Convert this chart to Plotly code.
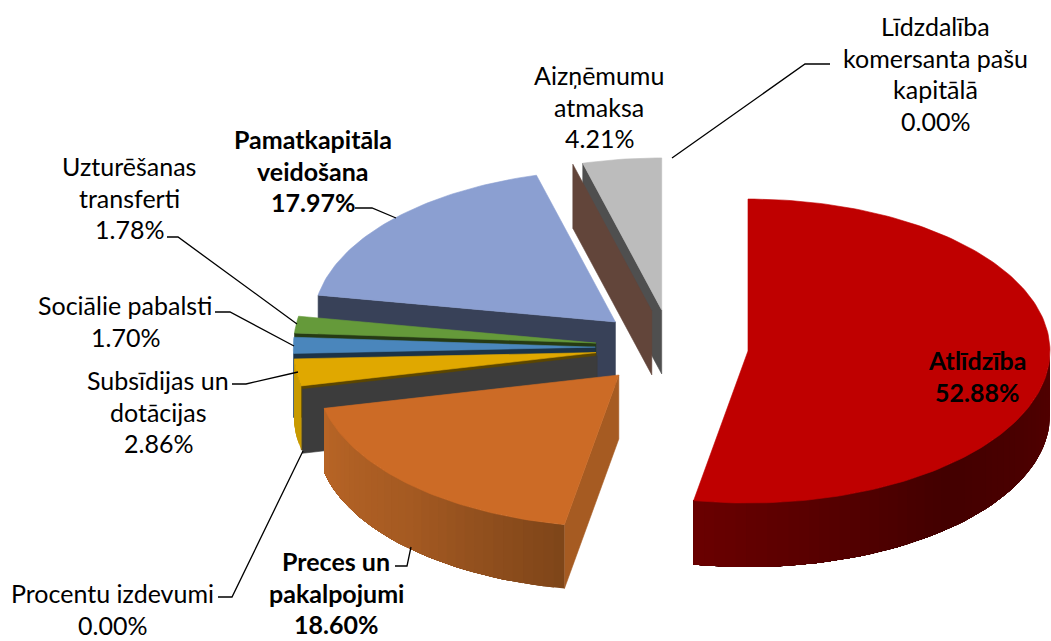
import math
import plotly.graph_objects as go

# ---- data, in chart order (clockwise from 12 o'clock) ----
names = ["Atlīdzība", "Preces un pakalpojumi", "Procentu izdevumi", "Subsīdijas un dotācijas",
         "Sociālie pabalsti", "Uzturēšanas transferti", "Pamatkapitāla veidošana",
         "Līdzdalība komersanta pašu kapitālā", "Aizņēmumu atmaksa"]
values = [52.88, 18.60, 0.00, 2.86, 1.70, 1.78, 17.97, 0.00, 4.21]
top_colors = ["#bf0000", "#cc6b26", "#3c3c3c", "#e0a800", "#4a86bc", "#659a3a", "#8b9fd1", "#62453a", "#bcbcbc"]
face_colors = ["#500000", "#a65b22", "#3c3c3c", "#5c4600", "#1c3347", "#263a14", "#384158", "#62453a", "#4f4f4f"]
wall_stops = [
    ["#520000", "#430000", "#6a0000"],
    ["#7e4519", "#a55a22", "#b86526"],
    ["#3c3c3c", "#3c3c3c"],
    ["#c89a00", "#c89a00"],
    ["#3f72a0", "#3f72a0"],
    ["#4f7a2e", "#4f7a2e"],
    ["#6e7fa8", "#6e7fa8"],
    ["#62453a", "#62453a"],
    ["#969696", "#969696"],
]

label_lines = [
    ["Atlīdzība", "52.88%"],
    ["Preces un", "pakalpojumi", "18.60%"],
    ["Procentu izdevumi", "0.00%"],
    ["Subsīdijas un", "dotācijas", "2.86%"],
    ["Sociālie pabalsti", "1.70%"],
    ["Uzturēšanas", "transferti", "1.78%"],
    ["Pamatkapitāla", "veidošana", "17.97%"],
    ["Līdzdalība", "komersanta pašu", "kapitālā", "0.00%"],
    ["Aizņēmumu", "atmaksa", "4.21%"],
]
label_bold = [True, True, False, False, False, False, True, False, False]
label_x = [977, 336, 112, 158, 125, 129, 313, 935, 599]
label_y = [360, 561, 593, 380, 305, 166, 139, 26, 75]
LINE_STEP = 31.7

leaders = [
    [(395, 566), (407, 566), (411, 547)],
    [(218, 597), (232, 597), (303, 451)],
    [(232, 384), (246, 384), (298, 372)],
    [(215, 312), (230, 312), (294, 346)],
    [(167, 237), (178, 237), (297, 324)],
    [(355, 208), (372, 208), (396, 218)],
    [(830, 64), (805, 64), (672, 158)],
]

# ---- projection of the tilted pie ----
CX, CY = 671.8, 347.6   # pie centre on the page
RX, RY = 302.0, 152.0   # ellipse radii
EX, EY = 76.5, 38.0     # explosion distance
DEPTH = 64.0


def hex2rgb(h):
    return tuple(int(h[i:i + 2], 16) for i in (1, 3, 5))


def mix(stops, t):
    t = max(0.0, min(1.0, t))
    pos = t * (len(stops) - 1)
    i = min(int(pos), len(stops) - 2)
    f = pos - i
    a, b = hex2rgb(stops[i]), hex2rgb(stops[i + 1])
    return "rgb(%d,%d,%d)" % tuple(round(a[k] + (b[k] - a[k]) * f) for k in range(3))


fig = go.Figure()


def poly(xs, ys, color, lw=0.6):
    fig.add_trace(go.Scatter(x=list(xs) + [xs[0]], y=list(ys) + [ys[0]], mode="lines", fill="toself",
                             fillcolor=color, line=dict(color=color, width=lw),
                             hoverinfo="skip", showlegend=False))


total = sum(values)
angles = [0.0]
for v in values:
    angles.append(angles[-1] + v / total * 2 * math.pi)

for i in list(range(len(values) - 1, 0, -1)) + [0]:
    a0, a1 = angles[i], angles[i + 1]
    mid = (a0 + a1) / 2
    ax, ay = CX + EX * math.sin(mid), CY - EY * math.cos(mid)
    px = lambda t: ax + RX * math.sin(t)
    py = lambda t: ay - RY * math.cos(t)

    # start-side cut face (faces the viewer on the left half)
    if a0 > math.pi:
        poly([ax, px(a0), px(a0), ax], [ay, py(a0), py(a0) + DEPTH, ay + DEPTH], face_colors[i])

    # outer wall: only the part turned to the viewer; each band runs to the far end so no seams show
    w0, w1 = max(a0, math.pi / 2), min(a1, 3 * math.pi / 2)
    if w1 > w0 and a1 > a0:
        n = max(2, int((w1 - w0) / 0.035))
        for k in range(n):
            s0 = w0 + (w1 - w0) * k / n
            col = mix(wall_stops[i], (k + 0.5) / n)
            m = max(2, n - k)
            ts = [s0 + (w1 - s0) * q / m for q in range(m + 1)]
            poly([px(t) for t in ts] + [px(t) for t in reversed(ts)],
                 [py(t) for t in ts] + [py(t) + DEPTH for t in reversed(ts)], col, lw=0)

    # top surface
    if a1 > a0:
        m = max(3, int((a1 - a0) / 0.02))
        ts = [a0 + (a1 - a0) * k / m for k in range(m + 1)]
        poly([ax] + [px(t) for t in ts], [ay] + [py(t) for t in ts], top_colors[i])

shapes = []
for pts in leaders:
    path = "M " + " L ".join(f"{x} {y}" for x, y in pts)
    shapes.append(dict(type="path", path=path, line=dict(color="#000000", width=1.3), xref="x", yref="y"))

annotations = []
for lines, bold, x, y in zip(label_lines, label_bold, label_x, label_y):
    for j, line in enumerate(lines):
        text = f"<b>{line}</b>" if bold else line
        annotations.append(dict(x=x, y=y + j * LINE_STEP, text=text, showarrow=False, xref="x", yref="y",
                                xanchor="center", yanchor="middle",
                                font=dict(family="Lato, Carlito, Calibri, sans-serif", size=25, color="#000000")))

fig.update_layout(
    width=1051, height=641, margin=dict(l=0, r=0, t=0, b=0),
    paper_bgcolor="#ffffff", plot_bgcolor="#ffffff", showlegend=False,
    xaxis=dict(range=[0, 1051], visible=False, fixedrange=True),
    yaxis=dict(range=[641, 0], visible=False, fixedrange=True),
    shapes=shapes, annotations=annotations,
)

fig.write_html("out.html", post_script="document.body.style.margin='0';", config={"displayModeBar": False})
